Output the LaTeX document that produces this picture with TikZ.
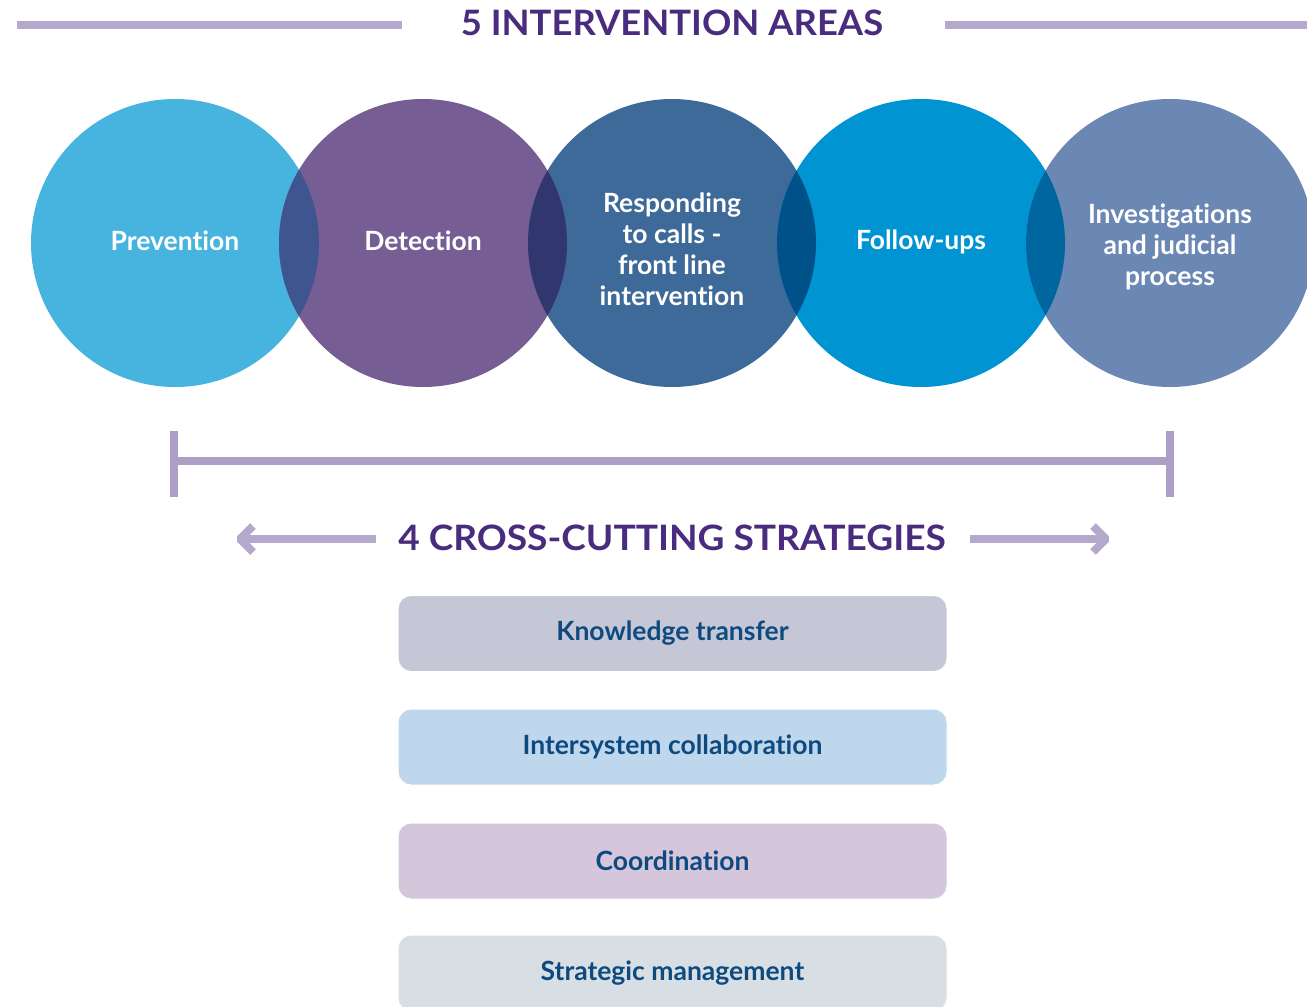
\documentclass[tikz,border=0pt]{standalone}
\usepackage{fontspec}
\setmainfont{Lato}[Ligatures=NoCommon]
\definecolor{cPrev}{HTML}{47B4E0}
\definecolor{cDet}{HTML}{765E95}
\definecolor{cResp}{HTML}{3E6A9A}
\definecolor{cFol}{HTML}{0095D2}
\definecolor{cInv}{HTML}{6B88B4}
\definecolor{oPD}{HTML}{3E5590}
\definecolor{oDR}{HTML}{31366E}
\definecolor{oRF}{HTML}{00508A}
\definecolor{oFI}{HTML}{0066A0}
\definecolor{titlec}{HTML}{4A2C7E}
\definecolor{linec}{HTML}{B4A8CC}
\definecolor{brackc}{HTML}{AE9DC5}
\definecolor{boxtext}{HTML}{0E4A7F}
\definecolor{bKT}{HTML}{C5C7D6}
\definecolor{bIC}{HTML}{BFD7EC}
\definecolor{bCO}{HTML}{D5C6DC}
\definecolor{bSM}{HTML}{D8DFE4}
\tikzset{
  area/.style={circle, minimum size=288pt, inner sep=0pt, text=white, font=\bfseries\fontsize{26.5}{31}\selectfont, align=center},
  heading/.style={text=titlec, font=\bfseries\fontsize{35}{40}\selectfont, inner sep=0pt},
  rule/.style={line width=8pt, draw=linec},
  strat/.style={rectangle, rounded corners=13pt, minimum width=549pt, minimum height=76pt, inner sep=0pt, text=boxtext, font=\bfseries\fontsize{26.5}{30}\selectfont, draw=white, line width=1pt},
  arrowline/.style={line width=8pt, draw=linec},
  chevron/.style={line width=8pt, draw=linec, line join=bevel},
}
\begin{document}
\begin{tikzpicture}[x=1pt,y=-1pt]
\useasboundingbox[fill=white] (0,0) rectangle (1307,1007);

% title and rules
\node[heading, xscale=1.04] (t1) at (672,23) {5 INTERVENTION AREAS};
\coordinate (l1a) at (17,25); \coordinate (l1b) at (402,25);
\coordinate (l2a) at (945,25); \coordinate (l2b) at (1307,25);
\draw[rule] (l1a) -- (l1b);
\draw[rule] (l2a) -- (l2b);

% circles
\node[area, fill=cPrev] (c1) at (175,243) {};
\node[area, fill=cDet]  (c2) at (423,243) {};
\node[area, fill=cResp] (c3) at (672,243) {};
\node[area, fill=cFol]  (c4) at (921,243) {};
\node[area, fill=cInv]  (c5) at (1170,243) {};
\begin{scope}\clip (c1.center) circle[radius=144]; \fill[oPD] (c2.center) circle[radius=144];\end{scope}
\begin{scope}\clip (c2.center) circle[radius=144]; \fill[oDR] (c3.center) circle[radius=144];\end{scope}
\begin{scope}\clip (c3.center) circle[radius=144]; \fill[oRF] (c4.center) circle[radius=144];\end{scope}
\begin{scope}\clip (c4.center) circle[radius=144]; \fill[oFI] (c5.center) circle[radius=144];\end{scope}
\node[area] (t2) at ([yshift=2pt]c1) {Prevention};
\node[area] (t3) at ([yshift=2pt]c2) {Detection};
\node[area] (t4) at ([yshift=-6pt]c3) {Responding\\to calls -\\front line\\intervention};
\node[area] (t5) at ([yshift=1pt]c4) {Follow-ups};
\node[area] (t6) at ([yshift=-4pt]c5) {Investigations\\and judicial\\process};

% bracket
\coordinate (bl) at (174,461); \coordinate (br) at (1170,461);
\coordinate (blt) at (174,431); \coordinate (blb) at (174,497);
\coordinate (brt) at (1170,431); \coordinate (brb) at (1170,497);
\draw[line width=8pt, draw=brackc] (bl) -- (br);
\draw[line width=8pt, draw=brackc] (blt) -- (blb);
\draw[line width=8pt, draw=brackc] (brt) -- (brb);

% cross-cutting heading and arrows
\node[heading, xscale=1.06] (t7) at (672,538) {4 CROSS-CUTTING STRATEGIES};
\coordinate (al0) at (376,539); \coordinate (al1) at (240,539);
\coordinate (alu) at (253,526); \coordinate (ald) at (253,552);
\coordinate (ar0) at (970,539); \coordinate (ar1) at (1106,539);
\coordinate (aru) at (1093,526); \coordinate (ard) at (1093,552);
\draw[arrowline] (al0) -- (al1);
\draw[chevron] (alu) -- (al1) -- (ald);
\draw[arrowline] (ar0) -- (ar1);
\draw[chevron] (aru) -- (ar1) -- (ard);

% strategies
\node[strat, fill=bKT] (s1) at (672.5,633.5) {Knowledge transfer};
\node[strat, fill=bIC] (s2) at (672.5,747) {Intersystem collaboration};
\node[strat, fill=bCO] (s3) at (672.5,861) {Coordination};
\node[strat, fill=bSM] (s4) at (672.5,973) {Strategic management};
\end{tikzpicture}
\end{document}
